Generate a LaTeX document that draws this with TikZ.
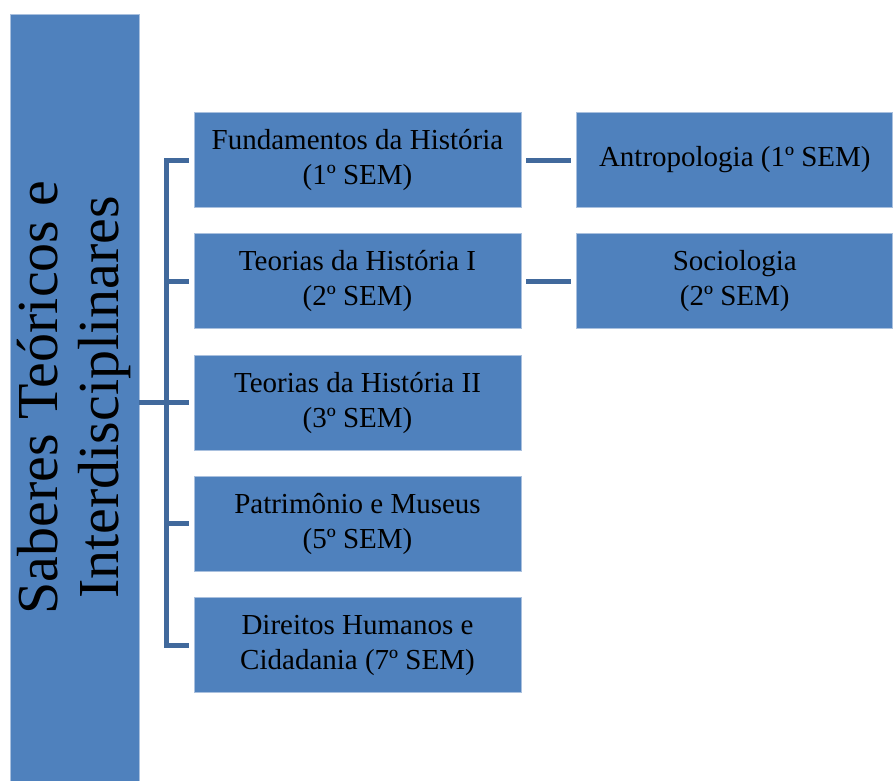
\documentclass[tikz,border=0pt]{standalone}
\usepackage{fontspec}
\setmainfont{Liberation Serif}
\usetikzlibrary{positioning}
\definecolor{boxblue}{HTML}{4F81BD}
\definecolor{boxedge}{HTML}{A9C0DE}
\definecolor{linkblue}{HTML}{41699C}

\begin{document}
\begin{tikzpicture}[x=0.5pt, y=-0.5pt,
    box/.style={draw=boxedge, line width=0.4pt, fill=boxblue, align=center, inner sep=0pt,
        minimum width=163.5pt, minimum height=47.5pt, font=\fontsize{14.5}{17.5}\selectfont},
    link/.style={draw=linkblue, line width=2.5pt},
    node distance=12.75pt and 27.5pt]

    \useasboundingbox (0,0) rectangle (894,781);

    \node[box, rotate=90, minimum width=383.5pt, minimum height=64.5pt,
        font=\fontsize{29}{30.5}\selectfont] (root) at (74.5,397.5) {Saberes Teóricos e\\Interdisciplinares};

    % first column
    \node[box] (fund) at (357.5,160) {Fundamentos da História\\(1º SEM)};
    \node[box, below=of fund] (teo1) {Teorias da História I\\(2º SEM)};
    \node[box, below=of teo1] (teo2) {Teorias da História II\\(3º SEM)};
    \node[box, below=of teo2] (patr) {Patrimônio e Museus\\(5º SEM)};
    \node[box, below=of patr] (dir) {Direitos Humanos e\\Cidadania (7º SEM)};

    % second column
    \node[box, right=of fund, minimum width=158pt] (antr) {Antropologia (1º SEM)};
    \node[box, right=of teo1, minimum width=158pt] (soc) {Sociologia\\(2º SEM)};

    \coordinate (bus) at (166.5,401);

    \draw[link, shorten >=2.5pt] (root.south |- teo2.west) -- (teo2.west);
    \draw[link] ([xshift=-2.5pt]fund.west) -- (bus |- fund.west) -- (bus |- dir.west) -- ([xshift=-2.5pt]dir.west);
    \foreach \n in {teo1,patr}
        \draw[link, shorten >=2.5pt] (bus |- \n.west) -- (\n.west);

    \draw[link, shorten <=2.5pt, shorten >=2.5pt] (fund) -- (antr);
    \draw[link, shorten <=2.5pt, shorten >=2.5pt] (teo1) -- (soc);

\end{tikzpicture}
\end{document}
